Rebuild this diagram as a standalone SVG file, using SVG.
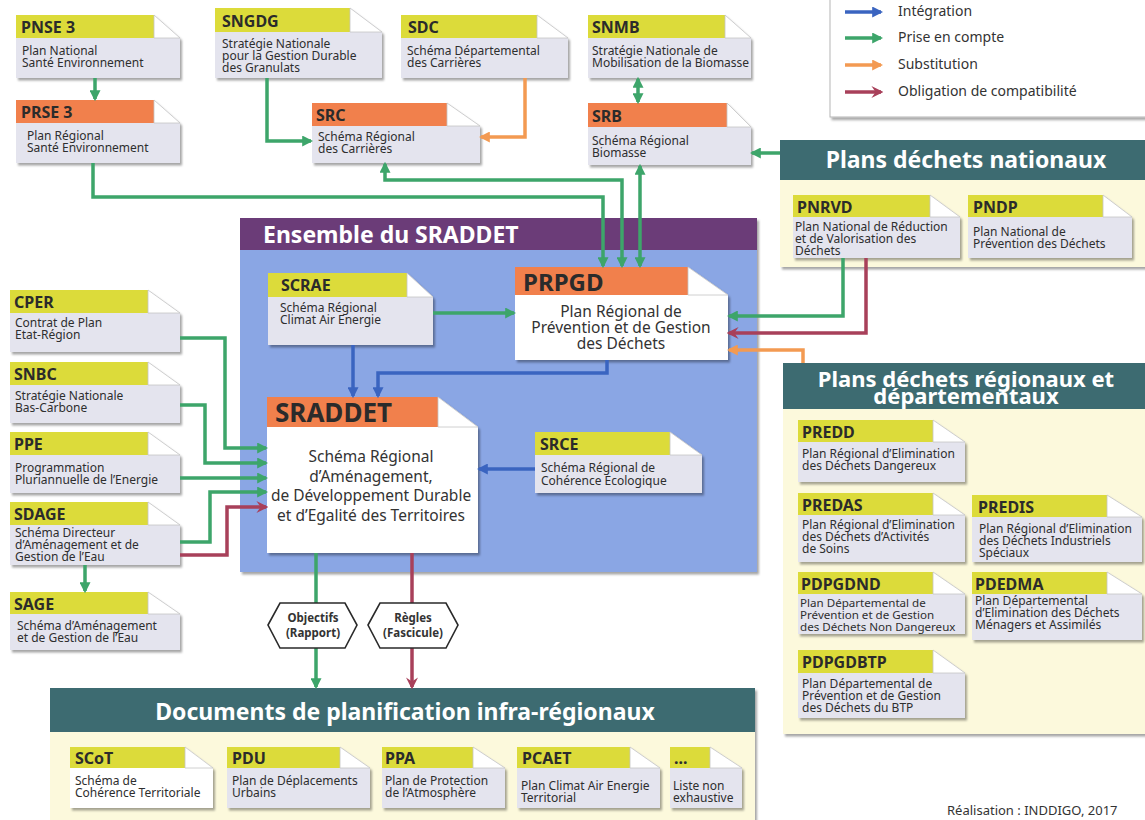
<svg xmlns="http://www.w3.org/2000/svg" width="1145" height="820" viewBox="0 0 1145 820">
<defs>
<style>
.bd{fill:#e4e4ee}
.bw{fill:#ffffff}
.hy{fill:#dcdb3a}
.ho{fill:#f1804c}
.fd{fill:#ffffff;stroke:#c4c4c4;stroke-width:0.8}
.sh{filter:url(#shadow)}
.t{font-family:"Noto Sans","Open Sans",sans-serif;font-weight:700;font-size:16px;fill:#2b2b2b}
.s{font-family:"Noto Sans","Open Sans",sans-serif;font-size:12px;fill:#2e2e2e}
.m{font-family:"Noto Sans","Open Sans",sans-serif;font-size:15.5px;fill:#333;text-anchor:middle}
.h{font-family:"Noto Sans","Open Sans",sans-serif;font-weight:700;font-size:23px;fill:#ffffff}
.lg{font-family:"Noto Sans","Open Sans",sans-serif;font-size:14px;fill:#333}
.hx{fill:#fff;stroke:#2a2a2a;stroke-width:1.6}
.hxt{font-family:"Noto Sans","Open Sans",sans-serif;font-weight:700;font-size:11.5px;fill:#333;text-anchor:middle}
.g{fill:none;stroke:#3da56a;stroke-width:3.5}
.b{fill:none;stroke:#3a64c0;stroke-width:3.5}
.o{fill:none;stroke:#f39a52;stroke-width:3.5}
.r{fill:none;stroke:#a8405a;stroke-width:3.5}
.teal{fill:#3d6b71}
.pale{fill:#fcf9dc}
</style>
<filter id="shadow" x="-10%" y="-10%" width="130%" height="140%">
<feDropShadow dx="2" dy="2.5" stdDeviation="1.3" flood-color="#000" flood-opacity="0.35"/>
</filter>
<marker id="ag" viewBox="0 0 10 10" refX="8" refY="5" markerWidth="11" markerHeight="11" markerUnits="userSpaceOnUse" orient="auto-start-reverse"><path d="M0,0 L10,5 L0,10 z" fill="#3da56a"/></marker>
<marker id="ab" viewBox="0 0 10 10" refX="8" refY="5" markerWidth="11" markerHeight="11" markerUnits="userSpaceOnUse" orient="auto-start-reverse"><path d="M0,0 L10,5 L0,10 z" fill="#3a64c0"/></marker>
<marker id="ao" viewBox="0 0 10 10" refX="8" refY="5" markerWidth="11" markerHeight="11" markerUnits="userSpaceOnUse" orient="auto-start-reverse"><path d="M0,0 L10,5 L0,10 z" fill="#f39a52"/></marker>
<marker id="ar" viewBox="0 0 10 10" refX="8" refY="5" markerWidth="12" markerHeight="12" markerUnits="userSpaceOnUse" orient="auto-start-reverse"><path d="M0,0 L10,5 L0,10 L3.5,5 z" fill="#a8405a"/></marker>
</defs>

<rect x="0" y="0" width="1145" height="820" fill="#ffffff"/>

<!-- Panels -->
<g id="panel-legend">
<rect class="sh" x="830" y="-6" width="322" height="123" fill="#ffffff" stroke="#b5b5b5" stroke-width="1"/>
</g>
<g id="panel-nationaux">
<rect class="sh pale" x="780" y="140" width="370" height="127"/>
<rect class="teal" x="780" y="140" width="370" height="40"/>
<text class="h" x="966" y="168" text-anchor="middle">Plans déchets nationaux</text>
</g>
<g id="panel-regionaux">
<rect class="sh pale" x="783" y="363" width="367" height="371"/>
<rect class="teal" x="783" y="363" width="367" height="46"/>
<text class="h" text-anchor="middle" style="font-size:22px"><tspan x="966" y="387">Plans déchets régionaux et</tspan><tspan x="966" y="404">départementaux</tspan></text>
</g>
<g id="panel-sraddet">
<rect class="sh" x="240" y="218" width="517" height="354" fill="#8aa6e4"/>
<rect x="240" y="218" width="517" height="32" fill="#6b3c78"/>
<text class="h" x="263" y="243">Ensemble du SRADDET</text>
</g>
<g id="panel-infra">
<rect class="sh pale" x="50" y="688" width="705" height="135"/>
<rect class="teal" x="50" y="688" width="705" height="44"/>
<text class="h" x="405" y="720" text-anchor="middle">Documents de planification infra-régionaux</text>
</g>

<!-- Top row -->
<g id="pnse3">
<polygon class="bd sh" points="16,15 154,15 180,38 180,78 16,78"/>
<rect class="hy" x="16" y="15" width="138" height="23"/>
<polygon class="fd" points="154,15 180,38 154,38"/>
<text class="t" x="21" y="33">PNSE 3</text>
<text class="s"><tspan x="22" y="55">Plan National</tspan><tspan x="22" y="67">Santé Environnement</tspan></text>
</g>
<g id="prse3">
<polygon class="bd sh" points="16,100 154,100 180,123 180,163 16,163"/>
<rect class="ho" x="16" y="100" width="138" height="23"/>
<polygon class="fd" points="154,100 180,123 154,123"/>
<text class="t" x="21" y="118">PRSE 3</text>
<text class="s"><tspan x="27" y="140">Plan Régional</tspan><tspan x="27" y="152">Santé Environnement</tspan></text>
</g>
<g id="sngdg">
<polygon class="bd sh" points="215,8 350,8 382,32 382,78 215,78"/>
<rect class="hy" x="215" y="8" width="135" height="24"/>
<polygon class="fd" points="350,8 382,32 350,32"/>
<text class="t" x="222" y="27">SNGDG</text>
<text class="s"><tspan x="222" y="48">Stratégie Nationale</tspan><tspan x="222" y="60">pour la Gestion Durable</tspan><tspan x="222" y="72">des Granulats</tspan></text>
</g>
<g id="sdc">
<polygon class="bd sh" points="401,15 537,15 568,38 568,78 401,78"/>
<rect class="hy" x="401" y="15" width="136" height="23"/>
<polygon class="fd" points="537,15 568,38 537,38"/>
<text class="t" x="408" y="33">SDC</text>
<text class="s"><tspan x="407" y="55">Schéma Départemental</tspan><tspan x="407" y="67">des Carrières</tspan></text>
</g>
<g id="src">
<polygon class="bd sh" points="312,103 447,103 480,126 480,163 312,163"/>
<rect class="ho" x="312" y="103" width="135" height="23"/>
<polygon class="fd" points="447,103 480,126 447,126"/>
<text class="t" x="316" y="121">SRC</text>
<text class="s"><tspan x="318" y="141">Schéma Régional</tspan><tspan x="318" y="153">des Carrières</tspan></text>
</g>
<g id="snmb">
<polygon class="bd sh" points="588,15 725,15 751,38 751,78 588,78"/>
<rect class="hy" x="588" y="15" width="137" height="23"/>
<polygon class="fd" points="725,15 751,38 725,38"/>
<text class="t" x="592" y="33">SNMB</text>
<text class="s"><tspan x="592" y="55">Stratégie Nationale de</tspan><tspan x="592" y="67">Mobilisation de la Biomasse</tspan></text>
</g>
<g id="srb">
<polygon class="bd sh" points="588,103 727,103 751,127 751,165 588,165"/>
<rect class="ho" x="588" y="103" width="139" height="24"/>
<polygon class="fd" points="727,103 751,127 727,127"/>
<text class="t" x="592" y="122">SRB</text>
<text class="s"><tspan x="592" y="145">Schéma Régional</tspan><tspan x="592" y="157">Biomasse</tspan></text>
</g>

<!-- Plans déchets nationaux -->
<g id="pnrvd">
<polygon class="bd sh" points="793,195 930,195 960,217 960,258 793,258"/>
<rect class="hy" x="793" y="195" width="137" height="22"/>
<polygon class="fd" points="930,195 960,217 930,217"/>
<text class="t" x="797" y="213">PNRVD</text>
<text class="s"><tspan x="795" y="231">Plan National de Réduction</tspan><tspan x="795" y="243">et de Valorisation des</tspan><tspan x="795" y="255">Déchets</tspan></text>
</g>
<g id="pndp">
<polygon class="bd sh" points="968,195 1103,195 1132,217 1132,258 968,258"/>
<rect class="hy" x="968" y="195" width="135" height="22"/>
<polygon class="fd" points="1103,195 1132,217 1103,217"/>
<text class="t" x="973" y="213">PNDP</text>
<text class="s"><tspan x="973" y="236">Plan National de</tspan><tspan x="973" y="248">Prévention des Déchets</tspan></text>
</g>

<!-- Plans déchets régionaux -->
<g id="predd">
<polygon class="bd sh" points="798,420 933,420 965,442 965,482 798,482"/>
<rect class="hy" x="798" y="420" width="135" height="22"/>
<polygon class="fd" points="933,420 965,442 933,442"/>
<text class="t" x="802" y="438">PREDD</text>
<text class="s"><tspan x="802" y="458">Plan Régional d’Elimination</tspan><tspan x="802" y="470">des Déchets Dangereux</tspan></text>
</g>
<g id="predas">
<polygon class="bd sh" points="798,493 933,493 965,515 965,562 798,562"/>
<rect class="hy" x="798" y="493" width="135" height="22"/>
<polygon class="fd" points="933,493 965,515 933,515"/>
<text class="t" x="802" y="511">PREDAS</text>
<text class="s"><tspan x="802" y="529">Plan Régional d’Elimination</tspan><tspan x="802" y="541">des Déchets d’Activités</tspan><tspan x="802" y="553">de Soins</tspan></text>
</g>
<g id="predis">
<polygon class="bd sh" points="972,495 1107,495 1142,517 1142,562 972,562"/>
<rect class="hy" x="972" y="495" width="135" height="22"/>
<polygon class="fd" points="1107,495 1142,517 1107,517"/>
<text class="t" x="978" y="513">PREDIS</text>
<text class="s"><tspan x="979" y="533">Plan Régional d’Elimination</tspan><tspan x="979" y="545">des Déchets Industriels</tspan><tspan x="979" y="557">Spéciaux</tspan></text>
</g>
<g id="pdpgdnd">
<polygon class="bd sh" points="798,572 933,572 965,594 965,634 798,634"/>
<rect class="hy" x="798" y="572" width="135" height="22"/>
<polygon class="fd" points="933,572 965,594 933,594"/>
<text class="t" x="801" y="590">PDPGDND</text>
<text class="s" style="font-size:11.6px"><tspan x="800" y="607">Plan Départemental de</tspan><tspan x="800" y="619">Prévention et de Gestion</tspan><tspan x="800" y="631">des Déchets Non Dangereux</tspan></text>
</g>
<g id="pdedma">
<polygon class="bd sh" points="972,572 1107,572 1142,594 1142,640 972,640"/>
<rect class="hy" x="972" y="572" width="135" height="22"/>
<polygon class="fd" points="1107,572 1142,594 1107,594"/>
<text class="t" x="975" y="590">PDEDMA</text>
<text class="s"><tspan x="975" y="605">Plan Départemental</tspan><tspan x="975" y="617">d’Elimination des Déchets</tspan><tspan x="975" y="629">Ménagers et Assimilés</tspan></text>
</g>
<g id="pdpgdbtp">
<polygon class="bd sh" points="798,650 933,650 965,673 965,718 798,718"/>
<rect class="hy" x="798" y="650" width="135" height="23"/>
<polygon class="fd" points="933,650 965,673 933,673"/>
<text class="t" x="802" y="668">PDPGDBTP</text>
<text class="s"><tspan x="802" y="688">Plan Départemental de</tspan><tspan x="802" y="700">Prévention et de Gestion</tspan><tspan x="802" y="712">des Déchets du BTP</tspan></text>
</g>

<!-- Ensemble du SRADDET -->
<g id="scrae">
<polygon class="bd sh" points="268,273 407,273 433,297 433,345 268,345"/>
<rect class="hy" x="268" y="273" width="139" height="24"/>
<polygon class="fd" points="407,273 433,297 407,297"/>
<text class="t" x="281" y="291">SCRAE</text>
<text class="s"><tspan x="280" y="312">Schéma Régional</tspan><tspan x="280" y="324">Climat Air Energie</tspan></text>
</g>
<g id="prpgd">
<polygon class="bw sh" points="515,267 688,267 728,295 728,360 515,360"/>
<rect class="ho" x="515" y="267" width="173" height="28"/>
<polygon class="fd" points="688,267 728,295 688,295"/>
<text class="t" x="523" y="291" style="font-size:24px">PRPGD</text>
<text class="m"><tspan x="621" y="317">Plan Régional de</tspan><tspan x="621" y="333">Prévention et de Gestion</tspan><tspan x="621" y="349">des Déchets</tspan></text>
</g>
<g id="sraddet">
<polygon class="bw sh" points="267,397 438,397 478,427 478,553 267,553"/>
<rect class="ho" x="267" y="397" width="171" height="30"/>
<polygon class="fd" points="438,397 478,427 438,427"/>
<text class="t" x="275" y="422" style="font-size:26px">SRADDET</text>
<text class="m"><tspan x="371" y="462">Schéma Régional</tspan><tspan x="371" y="482">d’Aménagement,</tspan><tspan x="371" y="501">de Développement Durable</tspan><tspan x="371" y="521">et d’Egalité des Territoires</tspan></text>
</g>
<g id="srce">
<polygon class="bd sh" points="535,432 670,432 702,455 702,493 535,493"/>
<rect class="hy" x="535" y="432" width="135" height="23"/>
<polygon class="fd" points="670,432 702,455 670,455"/>
<text class="t" x="540" y="450">SRCE</text>
<text class="s"><tspan x="541" y="472">Schéma Régional de</tspan><tspan x="541" y="485">Cohérence Ecologique</tspan></text>
</g>

<!-- Left column -->
<g id="cper">
<polygon class="bd sh" points="10,290 148,290 180,313 180,352 10,352"/>
<rect class="hy" x="10" y="290" width="138" height="23"/>
<polygon class="fd" points="148,290 180,313 148,313"/>
<text class="t" x="14" y="308">CPER</text>
<text class="s"><tspan x="15" y="327">Contrat de Plan</tspan><tspan x="15" y="339">Etat-Région</tspan></text>
</g>
<g id="snbc">
<polygon class="bd sh" points="10,362 148,362 180,385 180,423 10,423"/>
<rect class="hy" x="10" y="362" width="138" height="23"/>
<polygon class="fd" points="148,362 180,385 148,385"/>
<text class="t" x="14" y="380">SNBC</text>
<text class="s"><tspan x="15" y="400">Stratégie Nationale</tspan><tspan x="15" y="412">Bas-Carbone</tspan></text>
</g>
<g id="ppe">
<polygon class="bd sh" points="10,432 148,432 180,455 180,493 10,493"/>
<rect class="hy" x="10" y="432" width="138" height="23"/>
<polygon class="fd" points="148,432 180,455 148,455"/>
<text class="t" x="14" y="450">PPE</text>
<text class="s"><tspan x="15" y="472">Programmation</tspan><tspan x="15" y="484">Pluriannuelle de l’Energie</tspan></text>
</g>
<g id="sdage">
<polygon class="bd sh" points="10,502 148,502 180,525 180,565 10,565"/>
<rect class="hy" x="10" y="502" width="138" height="23"/>
<polygon class="fd" points="148,502 180,525 148,525"/>
<text class="t" x="14" y="520">SDAGE</text>
<text class="s"><tspan x="15" y="537">Schéma Directeur</tspan><tspan x="15" y="549">d’Aménagement et de</tspan><tspan x="15" y="561">Gestion de l’Eau</tspan></text>
</g>
<g id="sage">
<polygon class="bd sh" points="10,592 148,592 180,614 180,650 10,650"/>
<rect class="hy" x="10" y="592" width="138" height="22"/>
<polygon class="fd" points="148,592 180,614 148,614"/>
<text class="t" x="14" y="610">SAGE</text>
<text class="s"><tspan x="17" y="630">Schéma d’Aménagement</tspan><tspan x="17" y="642">et de Gestion de l’Eau</tspan></text>
</g>

<!-- Bottom row -->
<g id="scot">
<polygon class="bw sh" points="70,747 185,747 213,768 213,808 70,808"/>
<rect class="hy" x="70" y="747" width="115" height="21"/>
<polygon class="fd" points="185,747 213,768 185,768"/>
<text class="t" x="75" y="764">SCoT</text>
<text class="s"><tspan x="75" y="785">Schéma de</tspan><tspan x="75" y="797">Cohérence Territoriale</tspan></text>
</g>
<g id="pdu">
<polygon class="bd sh" points="227,747 340,747 370,768 370,808 227,808"/>
<rect class="hy" x="227" y="747" width="113" height="21"/>
<polygon class="fd" points="340,747 370,768 340,768"/>
<text class="t" x="232" y="764">PDU</text>
<text class="s"><tspan x="232" y="785">Plan de Déplacements</tspan><tspan x="232" y="797">Urbains</tspan></text>
</g>
<g id="ppa">
<polygon class="bd sh" points="382,747 473,747 505,768 505,808 382,808"/>
<rect class="hy" x="382" y="747" width="91" height="21"/>
<polygon class="fd" points="473,747 505,768 473,768"/>
<text class="t" x="385" y="764">PPA</text>
<text class="s"><tspan x="385" y="785">Plan de Protection</tspan><tspan x="385" y="797">de l’Atmosphère</tspan></text>
</g>
<g id="pcaet">
<polygon class="bd sh" points="517,747 630,747 660,768 660,808 517,808"/>
<rect class="hy" x="517" y="747" width="113" height="21"/>
<polygon class="fd" points="630,747 660,768 630,768"/>
<text class="t" x="522" y="764">PCAET</text>
<text class="s"><tspan x="521" y="790">Plan Climat Air Energie</tspan><tspan x="521" y="802">Territorial</tspan></text>
</g>
<g id="autres">
<polygon class="bd sh" points="670,747 710,747 742,768 742,808 670,808"/>
<rect class="hy" x="670" y="747" width="40" height="21"/>
<polygon class="fd" points="710,747 742,768 710,768"/>
<text class="t" x="674" y="764">...</text>
<text class="s"><tspan x="673" y="790">Liste non</tspan><tspan x="673" y="802">exhaustive</tspan></text>
</g>

<!-- Connectors -->
<g id="connectors">
<path class="g" d="M95,78 V99" marker-end="url(#ag)"/>
<path class="g" d="M93,163 V197 H603 V266" marker-end="url(#ag)"/>
<path class="g" d="M267,78 V141 H311" marker-end="url(#ag)"/>
<path class="g" d="M385,164 V180 H622 V266" marker-start="url(#ag)" marker-end="url(#ag)"/>
<path class="g" d="M638,79 V102" marker-start="url(#ag)" marker-end="url(#ag)"/>
<path class="g" d="M640,166 V266" marker-start="url(#ag)" marker-end="url(#ag)"/>
<path class="g" d="M780,153 H752" marker-end="url(#ag)"/>
<path class="g" d="M843,258 V316 H729" marker-end="url(#ag)"/>
<path class="r" d="M866,258 V333 H729" marker-end="url(#ar)"/>
<path class="o" d="M803,363 V350 H729" marker-end="url(#ao)"/>
<path class="o" d="M525,78 V137 H481" marker-end="url(#ao)"/>
<path class="g" d="M433,313 H514" marker-end="url(#ag)"/>
<path class="b" d="M353,345 V396" marker-end="url(#ab)"/>
<path class="b" d="M607,360 V373 H378 V396" marker-end="url(#ab)"/>
<path class="b" d="M535,469 H479" marker-end="url(#ab)"/>
<path class="g" d="M180,338 H225 V448 H266" marker-end="url(#ag)"/>
<path class="g" d="M180,405 H205 V463 H266" marker-end="url(#ag)"/>
<path class="g" d="M180,478 H266" marker-end="url(#ag)"/>
<path class="g" d="M180,542 H210 V492 H266" marker-end="url(#ag)"/>
<path class="r" d="M180,555 H227 V507 H266" marker-end="url(#ar)"/>
<path class="g" d="M85,565 V591" marker-end="url(#ag)"/>
<path class="g" d="M316,553 V687" marker-end="url(#ag)"/>
<path class="r" d="M412,553 V687" marker-end="url(#ar)"/>
</g>

<!-- Hexagon labels -->
<g id="objectifs">
<polygon class="hx" points="268,625 280,603 345,603 357,625 345,648 280,648"/>
<text class="hxt"><tspan x="313" y="622">Objectifs</tspan><tspan x="313" y="637">(Rapport)</tspan></text>
</g>
<g id="regles">
<polygon class="hx" points="368,625 380,603 446,603 458,625 446,648 380,648"/>
<text class="hxt"><tspan x="413" y="622">Règles</tspan><tspan x="413" y="637">(Fascicule)</tspan></text>
</g>

<!-- Legend -->
<g id="legend">
<path class="b" d="M845,12 H881" marker-end="url(#ab)"/>
<text class="lg" x="898" y="16">Intégration</text>
<path class="g" d="M845,38 H881" marker-end="url(#ag)"/>
<text class="lg" x="898" y="42">Prise en compte</text>
<path class="o" d="M845,65 H881" marker-end="url(#ao)"/>
<text class="lg" x="898" y="69">Substitution</text>
<path class="r" d="M845,92 H881" marker-end="url(#ar)"/>
<text class="lg" x="898" y="96">Obligation de compatibilité</text>
</g>

<text class="lg" x="947" y="815" style="font-size:13px">Réalisation : INDDIGO, 2017</text>
</svg>
